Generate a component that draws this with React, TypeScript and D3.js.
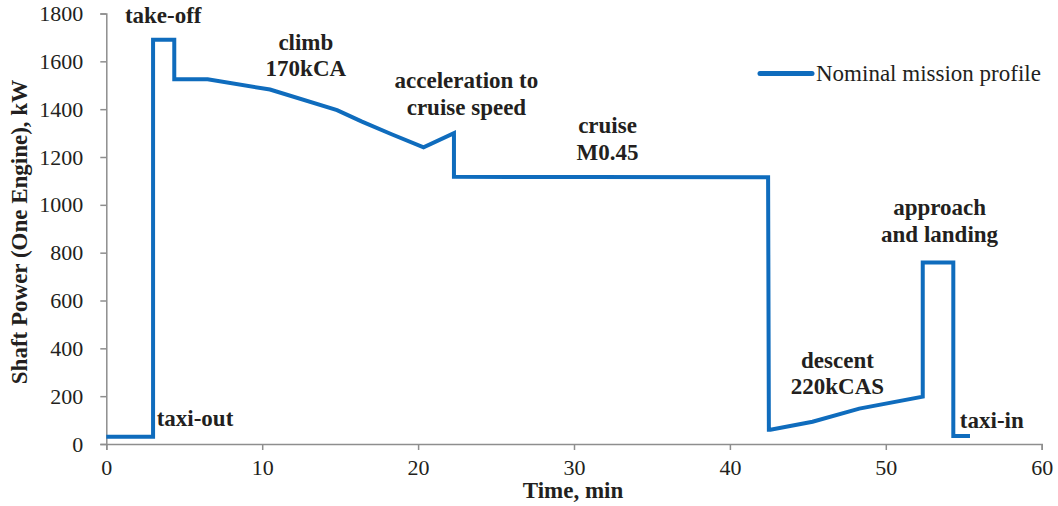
import React, { useEffect, useRef } from "react";
import * as d3 from "d3";

const timeMin = [0, 3, 3, 4.36, 4.36, 6.5, 10.5, 14.8, 16.4, 18.3, 20.35, 22.3, 22.3, 31, 42.45, 42.5, 42.6, 45.3, 48.3, 52.37, 52.37, 54.33, 54.33, 55.4];
const powerKW = [30, 30, 1690, 1690, 1525, 1525, 1482, 1396, 1348, 1295, 1240, 1300, 1117, 1116, 1115, 60, 60, 93, 148, 198, 759, 759, 33, 33];
const xTicks = [0, 10, 20, 30, 40, 50, 60];
const yTicks = [0, 200, 400, 600, 800, 1000, 1200, 1400, 1600, 1800];

const phaseLabels = [
  { lines: ["take-off"], x: 3.65, y: 1761, anchor: "middle" },
  { lines: ["climb", "170kCA"], x: 12.8, y: 1649, anchor: "middle" },
  { lines: ["acceleration to", "cruise speed"], x: 23.1, y: 1488, anchor: "middle" },
  { lines: ["cruise", "M0.45"], x: 32.15, y: 1299, anchor: "middle" },
  { lines: ["approach", "and landing"], x: 53.45, y: 957, anchor: "middle" },
  { lines: ["descent", "220kCAS"], x: 46.9, y: 318, anchor: "middle" },
  { lines: ["taxi-out"], x: 3.23, y: 76, anchor: "start" },
  { lines: ["taxi-in"], x: 54.75, y: 67, anchor: "start" },
];

const seriesName = "Nominal mission profile";

export default function App() {
  const ref = useRef<SVGSVGElement>(null);
  useEffect(() => {
    const svg = d3.select(ref.current);
    svg.selectAll("*").remove();
    const W = 1058, H = 506;
    const x = d3.scaleLinear().domain([0, 60]).range([106.3, 1041.7]);
    const y = d3.scaleLinear().domain([0, 1800]).range([444, 13.5]);
    const axisColor = "#8e8e8e";
    const textColor = "#231f20";
    const font = "'Liberation Serif', 'Times New Roman', serif";

    svg.append("rect").attr("width", W).attr("height", H).attr("fill", "#fff");

    const gx = svg.append("g").attr("transform", `translate(0,${y(0)})`)
      .call(d3.axisBottom(x).tickValues(xTicks).tickSize(6).tickPadding(9).tickFormat(d3.format("d")));
    gx.select(".domain").attr("stroke", axisColor).attr("stroke-width", 1.5);
    gx.selectAll(".tick line").attr("stroke", axisColor).attr("stroke-width", 1.5);
    gx.selectAll(".tick text").attr("font-family", font).attr("font-size", 22).attr("fill", textColor);

    const gy = svg.append("g").attr("transform", `translate(${x(0)},0)`)
      .call(d3.axisLeft(y).tickValues(yTicks).tickSize(6).tickPadding(17).tickFormat(d3.format("d")));
    gy.select(".domain").attr("stroke", axisColor).attr("stroke-width", 1.5);
    gy.selectAll(".tick line").attr("stroke", axisColor).attr("stroke-width", 1.5);
    gy.selectAll(".tick text").attr("font-family", font).attr("font-size", 22).attr("fill", textColor);

    const data = timeMin.map((t, i) => [t, powerKW[i]] as [number, number]);
    const line = d3.line<[number, number]>().x(d => x(d[0])).y(d => y(d[1]));
    svg.append("path").attr("d", line(data)).attr("fill", "none")
      .attr("stroke", "#0f6cbd").attr("stroke-width", 4).attr("stroke-linejoin", "miter");

    phaseLabels.forEach(l => {
      const t = svg.append("text").attr("x", x(l.x)).attr("y", y(l.y))
        .attr("text-anchor", l.anchor).attr("font-family", font).attr("font-weight", "bold")
        .attr("font-size", 23).attr("fill", textColor);
      l.lines.forEach((s, i) => {
        t.append("tspan").attr("x", x(l.x)).attr("dy", i === 0 ? 0 : 26.5).text(s);
      });
    });

    // legend
    svg.append("line").attr("x1", 760).attr("x2", 812).attr("y1", 73.5).attr("y2", 73.5)
      .attr("stroke", "#0f6cbd").attr("stroke-width", 5).attr("stroke-linecap", "round");
    svg.append("text").attr("x", 816).attr("y", 81).attr("font-family", font)
      .attr("font-size", 23).attr("fill", textColor).text(seriesName);

    svg.append("text").attr("x", 573).attr("y", 498).attr("text-anchor", "middle")
      .attr("font-family", font).attr("font-weight", "bold").attr("font-size", 23)
      .attr("fill", textColor).text("Time, min");
    svg.append("text").attr("transform", "translate(27,232) rotate(-90)").attr("text-anchor", "middle")
      .attr("font-family", font).attr("font-weight", "bold").attr("font-size", 23)
      .attr("fill", textColor).text("Shaft Power (One Engine), kW");
  }, []);
  return <svg ref={ref} width={1058} height={506} style={{ position: "absolute", left: 0, top: 0 }} />;
}
